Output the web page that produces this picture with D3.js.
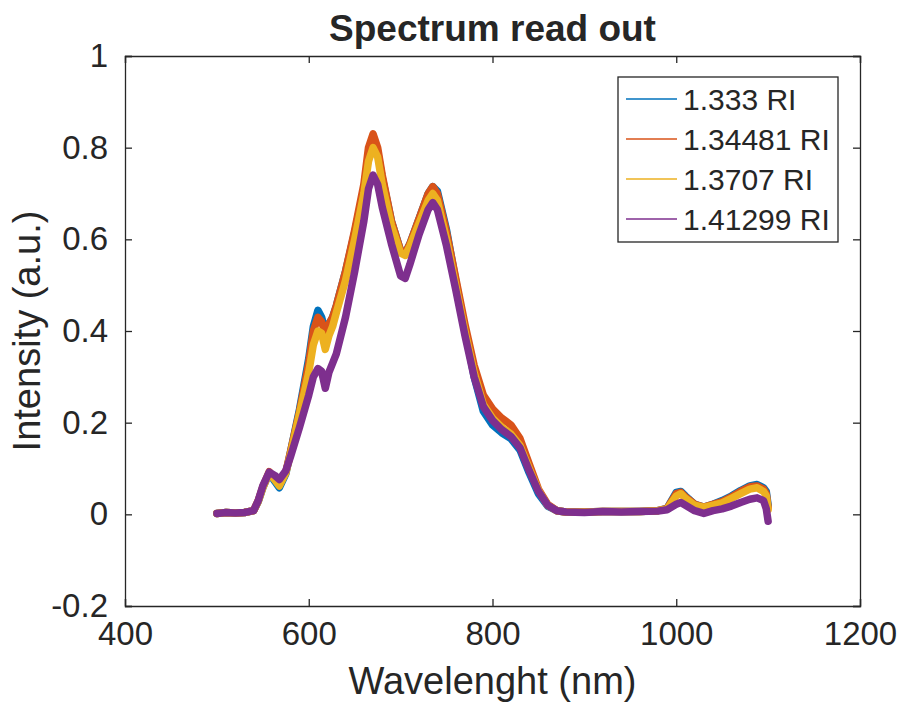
<!DOCTYPE html>
<html>
<head>
<meta charset="utf-8">
<script src="https://cdn.jsdelivr.net/npm/d3@7"></script>
<style>
body { margin: 0; background: #fff; }
text { font-family: "Liberation Sans", Arial, sans-serif; fill: #262626; }
</style>
</head>
<body>
<script>
// wavelength samples (nm)
var wavelengths = [500,510,520,530,540,545,550,557,563,568,575,580,590,600,605,610,614,618,622,626,630,640,650,660,665,670,675,680,690,700,705,710,720,730,735,740,750,760,770,780,790,800,810,820,830,840,850,860,870,880,900,920,940,960,980,990,1000,1005,1010,1020,1030,1040,1050,1060,1070,1080,1088,1095,1098,1100];

var ri1333 = [0.002,0.004,0.003,0.004,0.008,0.028,0.058,0.09,0.072,0.058,0.088,0.135,0.23,0.34,0.41,0.445,0.43,0.4,0.415,0.43,0.455,0.53,0.615,0.71,0.785,0.815,0.79,0.735,0.64,0.575,0.57,0.59,0.645,0.7,0.715,0.705,0.62,0.51,0.405,0.3,0.225,0.195,0.178,0.165,0.14,0.09,0.045,0.018,0.008,0.005,0.005,0.006,0.006,0.006,0.008,0.013,0.048,0.05,0.04,0.022,0.016,0.022,0.03,0.04,0.052,0.062,0.065,0.058,0.05,0.02];
var ri1344 = [0.002,0.004,0.003,0.004,0.008,0.03,0.06,0.093,0.078,0.065,0.092,0.135,0.225,0.33,0.4,0.43,0.42,0.395,0.415,0.43,0.455,0.53,0.62,0.72,0.8,0.83,0.8,0.74,0.64,0.575,0.57,0.59,0.645,0.7,0.715,0.7,0.615,0.515,0.415,0.325,0.26,0.23,0.21,0.195,0.165,0.11,0.055,0.022,0.008,0.005,0.005,0.006,0.006,0.006,0.008,0.013,0.045,0.048,0.038,0.022,0.016,0.022,0.028,0.038,0.05,0.06,0.062,0.055,0.045,0.015];
var ri1370 = [0.002,0.004,0.003,0.004,0.008,0.028,0.058,0.09,0.075,0.062,0.09,0.13,0.22,0.31,0.37,0.4,0.395,0.36,0.39,0.41,0.44,0.51,0.6,0.7,0.77,0.8,0.78,0.72,0.63,0.57,0.565,0.585,0.635,0.685,0.7,0.685,0.6,0.5,0.4,0.31,0.24,0.21,0.19,0.175,0.15,0.1,0.052,0.02,0.008,0.005,0.005,0.006,0.006,0.006,0.008,0.012,0.04,0.045,0.035,0.02,0.015,0.02,0.025,0.035,0.045,0.055,0.058,0.05,0.04,0.01];
var ri1413 = [0.002,0.004,0.003,0.004,0.008,0.03,0.062,0.092,0.085,0.076,0.095,0.125,0.19,0.26,0.3,0.318,0.312,0.275,0.31,0.33,0.35,0.43,0.53,0.64,0.71,0.74,0.72,0.67,0.59,0.52,0.515,0.545,0.61,0.665,0.68,0.665,0.585,0.49,0.39,0.3,0.235,0.205,0.185,0.17,0.145,0.095,0.05,0.02,0.008,0.005,0.004,0.006,0.005,0.006,0.007,0.01,0.022,0.026,0.02,0.008,0.002,0.008,0.012,0.018,0.026,0.033,0.036,0.03,0.012,-0.015];

var seriesNames = ["1.333 RI", "1.34481 RI", "1.3707 RI", "1.41299 RI"];
var seriesValues = [ri1333, ri1344, ri1370, ri1413];
var seriesColors = ["#0072BD", "#D95319", "#EDB120", "#7E2F8E"];

var xTicks = [400, 600, 800, 1000, 1200];
var yTicks = [-0.2, 0, 0.2, 0.4, 0.6, 0.8, 1];

(function(){
	var width = 901, height = 713;
	var mLeft = 125, mRight = 860, mTop = 56, mBottom = 606;
	var axisColor = "#262626";

	var svg = d3.select("body").append("svg")
		.attr("width", width)
		.attr("height", height);

	var x = d3.scaleLinear().domain([400, 1200]).range([mLeft, mRight]);
	var y = d3.scaleLinear().domain([-0.2, 1]).range([mBottom, mTop]);

	svg.append("clipPath").attr("id", "plotclip")
		.append("rect")
		.attr("x", mLeft).attr("y", mTop)
		.attr("width", mRight - mLeft).attr("height", mBottom - mTop);

	// lines (thick stroke stands in for the noisy band of the raw spectra)
	var line = d3.line()
		.x(function(d, i){ return x(wavelengths[i]); })
		.y(function(d){ return y(d); });

	svg.append("g").attr("clip-path", "url(#plotclip)")
		.selectAll("path")
		.data(seriesValues)
		.enter()
		.append("path")
		.attr("d", function(d){ return line(d); })
		.attr("fill", "none")
		.attr("stroke", function(d, i){ return seriesColors[i]; })
		.attr("stroke-width", 7.5)
		.attr("stroke-linejoin", "round")
		.attr("stroke-linecap", "round");

	// axes (ticks pointing inward, box on)
	var tickLen = 7;
	var fmtY = function(d){ return d === 0 ? "0" : String(Math.round(d * 10) / 10); };

	var xAxisB = svg.append("g").attr("transform", "translate(0," + mBottom + ")")
		.call(d3.axisBottom(x).tickValues(xTicks).tickSize(-tickLen).tickPadding(27).tickFormat(d3.format("d")));
	var xAxisT = svg.append("g").attr("transform", "translate(0," + mTop + ")")
		.call(d3.axisTop(x).tickValues(xTicks).tickSize(-tickLen).tickFormat(""));
	var yAxisL = svg.append("g").attr("transform", "translate(" + mLeft + ",0)")
		.call(d3.axisLeft(y).tickValues(yTicks).tickSize(-tickLen).tickPadding(17).tickFormat(fmtY));
	var yAxisR = svg.append("g").attr("transform", "translate(" + mRight + ",0)")
		.call(d3.axisRight(y).tickValues(yTicks).tickSize(-tickLen).tickFormat(""));

	[xAxisB, xAxisT, yAxisL, yAxisR].forEach(function(g){
		g.select(".domain").attr("stroke", axisColor).attr("stroke-width", 1.3);
		g.selectAll(".tick line").attr("stroke", axisColor).attr("stroke-width", 1.3);
		g.selectAll(".tick text")
			.attr("fill", axisColor)
			.style("font-family", "'Liberation Sans', Arial, sans-serif")
			.style("font-size", "33px");
	});
	xAxisB.selectAll(".tick text").attr("dy", "0.35em");

	// title and labels
	svg.append("text")
		.attr("x", (mLeft + mRight) / 2)
		.attr("y", 41)
		.attr("text-anchor", "middle")
		.style("font-size", "37px")
		.style("font-weight", "bold")
		.text("Spectrum read out");

	svg.append("text")
		.attr("x", (mLeft + mRight) / 2)
		.attr("y", 694)
		.attr("text-anchor", "middle")
		.style("font-size", "38px")
		.text("Wavelenght (nm)");

	svg.append("text")
		.attr("transform", "translate(40," + ((mTop + mBottom) / 2) + ") rotate(-90)")
		.attr("text-anchor", "middle")
		.style("font-size", "38px")
		.text("Intensity (a.u.)");

	// legend
	var legend = svg.append("g");
	legend.append("rect")
		.attr("x", 618).attr("y", 77)
		.attr("width", 220).attr("height", 165)
		.attr("fill", "#fff")
		.attr("stroke", axisColor)
		.attr("stroke-width", 1.3);

	var rows = legend.selectAll("g.row")
		.data(seriesNames)
		.enter()
		.append("g")
		.attr("class", "row")
		.attr("transform", function(d, i){ return "translate(0," + (99 + i * 40) + ")"; });
	rows.append("line")
		.attr("x1", 626).attr("x2", 677)
		.attr("y1", 0).attr("y2", 0)
		.attr("stroke", function(d, i){ return seriesColors[i]; })
		.attr("stroke-width", 1.5);
	rows.append("text")
		.attr("x", 683)
		.attr("y", 11)
		.style("font-size", "30px")
		.text(function(d){ return d; });
})();
</script>
</body>
</html>
